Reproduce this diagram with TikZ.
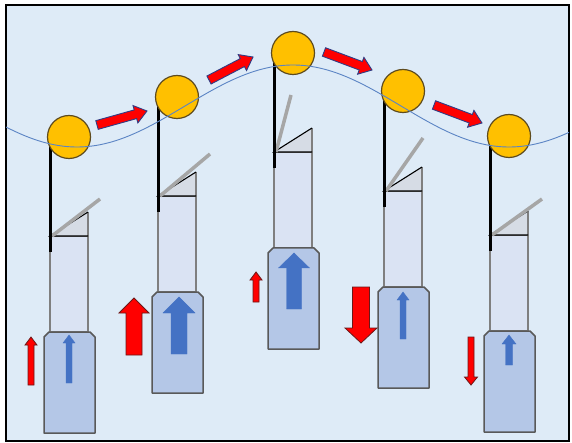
\documentclass[tikz,border=0pt]{standalone}
\usetikzlibrary{calc}

\definecolor{bg}{HTML}{DEEBF7}
\definecolor{ballfill}{HTML}{FFC000}
\definecolor{balledge}{HTML}{5E4B1E}
\definecolor{track}{HTML}{5B84C4}
\definecolor{wedge}{HTML}{D6DCE5}
\definecolor{needlegray}{HTML}{A6A6A6}
\definecolor{sleeve}{HTML}{DAE3F3}
\definecolor{sleeveedge}{HTML}{7F7F7F}
\definecolor{piston}{HTML}{B4C7E7}
\definecolor{pistonedge}{HTML}{595959}
\definecolor{push}{HTML}{4472C4}
\definecolor{hot}{HTML}{FF0000}
\definecolor{hotedge}{HTML}{6A1818}
\definecolor{traveledge}{HTML}{2F3C85}

\tikzset{
  frame/.style={draw=black, line width=1.5pt, fill=bg},
  wave/.style={draw=track, line width=0.9pt},
  ball/.style={circle, minimum size=43pt, inner sep=0pt, fill=ballfill, draw=balledge, line width=1.2pt},
  rod/.style={draw=black, line width=3pt},
  needle/.style={draw=needlegray, line width=3.5pt},
  sleevebox/.style={fill=sleeve, draw=sleeveedge, line width=1.4pt},
  pistonbox/.style={fill=piston, draw=pistonedge, line width=1.5pt, line join=round},
  wedgeline/.style={draw=black, line width=1.1pt},
  lift/.style={fill=push, draw=push, line width=0.4pt},
  force/.style={fill=hot, draw=hotedge, line width=0.8pt, line join=miter},
  travel/.style={fill=hot, draw=traveledge, line width=0.9pt, line join=miter},
}

% block arrow: style, tail, tip, shaft half-width, head half-width, head length
\newcommand\fatarrow[6]{%
  \coordinate (fa-base) at ($(#3)!#6!(#2)$);
  \path[#1] ($(#2)!#4!90:(#3)$) -- ($(fa-base)!#4!-90:(#2)$)
    -- ($(fa-base)!#5!-90:(#2)$) -- (#3) -- ($(fa-base)!#5!90:(#2)$)
    -- ($(fa-base)!#4!90:(#2)$) -- ($(#2)!#4!-90:(#3)$) -- cycle;}

% one stage: rod x, bar y, needle dx, needle dy, ball y, name suffix
\newcommand\stage[6]{%
  \draw[sleevebox] (#1,#2) rectangle (#1+38,#2+96);
  \draw[pistonbox] (#1-6,#2+101) -- (#1-1,#2+96) -- (#1+40,#2+96) -- (#1+45,#2+101)
    -- (#1+45,#2+197) -- (#1-6,#2+197) -- cycle;
  \fill[wedge] (#1,#2) -- (#1+38,#2) -- (#1+38,#2-24) -- cycle;
  \draw[draw=sleeveedge, line width=1.4pt] (#1+38,#2) -- (#1+38,#2-24);
  \draw[wedgeline] (#1+38,#2-24) -- (#1,#2) -- (#1+38,#2);
  \draw[needle] (#1+2,#2) -- ++(#3,#4);
  \draw[rod] (#1,#2+16) -- (#1,#5);
  \node[ball] (ball#6) at (#1+19,#5) {};
}

\begin{document}
\begin{tikzpicture}[x=1pt, y=-1pt]
  \useasboundingbox (0,0) rectangle (572,443);
  \draw[frame] (6,5) rectangle (569,441);

  % the five stages
  \stage{50}{236}{48}{-37}{137}{1}
  \stage{158}{196}{50}{-42}{97}{2}
  \stage{274}{152}{15}{-57}{53}{3}
  \stage{384}{191}{37}{-53}{91}{4}
  \stage{490}{235}{50}{-36}{136}{5}

  % wave path of the balls
  \begin{scope}
    \clip (6,5) rectangle (569,441);
    \draw[wave] plot[domain=6:569, samples=120, smooth] (\x, {106-41*cos(0.83333*(\x-293))});
  \end{scope}

  % piston lift arrows
  \coordinate (l1a) at (69,383);  \coordinate (l1b) at (69,335);
  \coordinate (l2a) at (179,354); \coordinate (l2b) at (179,297);
  \coordinate (l3a) at (294,309); \coordinate (l3b) at (294,253);
  \coordinate (l4a) at (403,339); \coordinate (l4b) at (403,292);
  \coordinate (l5a) at (509,365); \coordinate (l5b) at (509,335);
  \fatarrow{lift}{l1a}{l1b}{3pt}{6pt}{8pt}
  \fatarrow{lift}{l2a}{l2b}{8pt}{16pt}{16pt}
  \fatarrow{lift}{l3a}{l3b}{7.5pt}{15.5pt}{15pt}
  \fatarrow{lift}{l4a}{l4b}{3pt}{6pt}{8pt}
  \fatarrow{lift}{l5a}{l5b}{3.5pt}{7pt}{9pt}

  % vertical force arrows
  \coordinate (f1a) at (31,385);  \coordinate (f1b) at (31,337);
  \coordinate (f2a) at (134,355); \coordinate (f2b) at (134,298);
  \coordinate (f3a) at (256,302); \coordinate (f3b) at (256,272);
  \coordinate (f4a) at (361,287); \coordinate (f4b) at (361,343);
  \coordinate (f5a) at (471,337); \coordinate (f5b) at (471,385);
  \fatarrow{force}{f1a}{f1b}{3pt}{6pt}{8pt}
  \fatarrow{force}{f2a}{f2b}{8pt}{15pt}{15pt}
  \fatarrow{force}{f3a}{f3b}{3pt}{6pt}{8pt}
  \fatarrow{force}{f4a}{f4b}{8.5pt}{16pt}{15pt}
  \fatarrow{force}{f5a}{f5b}{3pt}{6.5pt}{8pt}

  % travel arrows between balls
  \coordinate (t1a) at (97,125);  \coordinate (t1b) at (147,111);
  \coordinate (t2a) at (209,80);  \coordinate (t2b) at (253,57);
  \coordinate (t3a) at (324,52);  \coordinate (t3b) at (372,70);
  \coordinate (t4a) at (434,105); \coordinate (t4b) at (482,123);
  \fatarrow{travel}{t1a}{t1b}{4.5pt}{9pt}{12pt}
  \fatarrow{travel}{t2a}{t2b}{4.5pt}{9pt}{12pt}
  \fatarrow{travel}{t3a}{t3b}{4.5pt}{9pt}{12pt}
  \fatarrow{travel}{t4a}{t4b}{4.5pt}{9pt}{12pt}
\end{tikzpicture}
\end{document}
